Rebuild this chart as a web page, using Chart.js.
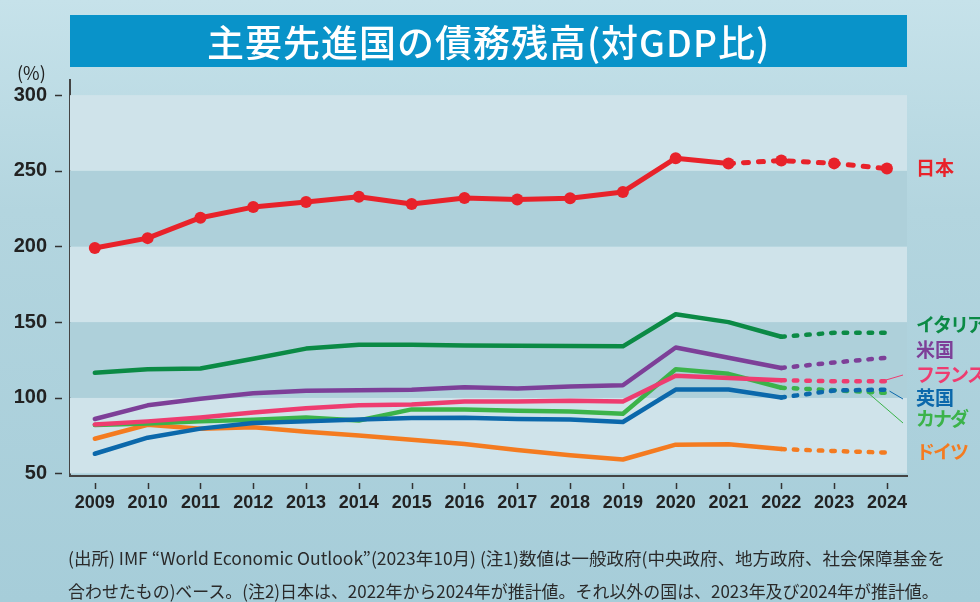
<!DOCTYPE html>
<html>
<head>
<meta charset="utf-8">
<script src="https://cdn.jsdelivr.net/npm/chart.js@4"></script>
<style>
  html, body { margin: 0; padding: 0; }
  body {
    width: 980px; height: 602px; overflow: hidden; position: relative;
    background: linear-gradient(180deg, #c6e2ea 0%, #b3d5df 35%, #a6cdd9 100%);
    font-family: "Noto Sans CJK JP", sans-serif;
  }
  #wrap { position: absolute; left: 0; top: 0; width: 980px; height: 602px; }
  #title {
    position: absolute; left: 70px; top: 15px; width: 837px; height: 52px;
    background: #0993c9; color: #fff; text-align: center;
    font-size: 37px; font-weight: 500; line-height: 52px; letter-spacing: 1px;
  }
  #unit { position: absolute; left: 17px; top: 59px; font-size: 18px; color: #222; }
  #note {
    position: absolute; left: 68px; top: 541px; font-size: 17.5px; line-height: 33px;
    color: #2a2a2a; white-space: nowrap;
  }
  #note span { display: block; transform-origin: 0 50%; }
  #note span.l2 { transform: scaleX(0.968); }
</style>
</head>
<body>
<div id="wrap"><canvas id="chart"></canvas></div>
<div id="title">主要先進国の債務残高(対GDP比)</div>
<div id="unit">(%)</div>
<div id="note"><span>(出所) IMF “World Economic Outlook”(2023年10月) (注1)数値は一般政府(中央政府、地方政府、社会保障基金を</span><span class="l2">合わせたもの)ベース。(注2)日本は、2022年から2024年が推計値。それ以外の国は、2023年及び2024年が推計値。</span></div>
<script>
const years = [2009, 2010, 2011, 2012, 2013, 2014, 2015, 2016, 2017, 2018, 2019, 2020, 2021, 2022, 2023, 2024];
const yTicks = [50, 100, 150, 200, 250, 300];

const japan   = [199, 205.5, 219, 226, 229.3, 232.8, 228, 232, 231, 231.8, 236, 258.3, 254.8, 256.8, 254.9, 251.5];
const italy   = [116.5, 118.8, 119.3, 125.8, 132.5, 135.1, 135, 134.6, 134.3, 134.2, 134, 155.2, 150, 140.3, 143, 143];
const usa     = [86, 95, 99.4, 103, 104.6, 105, 105.3, 107, 106.2, 107.5, 108.3, 133.2, 126.5, 119.7, 123.3, 126.5];
const france  = [82.4, 84.4, 87, 90.3, 93, 95, 95.6, 97.6, 97.6, 98, 97.6, 114.5, 113, 111.6, 110.9, 110.9];
const uk      = [63, 73.6, 79.6, 83.3, 84.4, 85.7, 86.6, 86.8, 86, 85.7, 84, 105.4, 105.4, 100.2, 104.8, 105.4];
const canada  = [82, 83, 84.4, 85.4, 87, 85, 92.3, 92.3, 91.4, 91, 89.5, 118.8, 115.8, 106.6, 105, 103.2];
const germany = [72.9, 82.2, 79.5, 80.5, 77.5, 75, 72.2, 69.5, 65.5, 62, 59.2, 69, 69.3, 66.1, 64.8, 63.8];

const countries = ["日本", "イタリア", "米国", "フランス", "英国", "カナダ", "ドイツ"];
const colors = ["#e8222a", "#0b8a45", "#7d3f98", "#ee3c70", "#0b68ab", "#3bb34a", "#f47b20"];
const series = [japan, italy, usa, france, uk, canada, germany];
// estimates start: Japan from 2022, others from 2023
const estStart = [12, 13, 13, 13, 13, 13, 13];
// label vertical centres on the right side
const labelY = [168, 325, 350, 375, 398, 419, 452];
const kana = [false, true, false, true, false, true, true];

const datasets = series.map((vals, i) => ({
  label: countries[i],
  data: vals.map((v, j) => ({ x: years[j], y: v })),
  borderColor: colors[i],
  backgroundColor: colors[i],
  borderWidth: i === 0 ? 5 : 4.5,
  borderCapStyle: "round",
  borderJoinStyle: "round",
  pointRadius: i === 0 ? 6 : 0,
  pointHoverRadius: 0,
  pointBorderWidth: 0,
  tension: 0,
  order: i,
  segment: {
    borderDash: ctx => ctx.p0DataIndex >= estStart[i] ? (i === 0 ? [5, 10] : [3.5, 9]) : undefined
  }
}));

const decor = {
  id: "decor",
  beforeDatasetsDraw(chart) {
    const { ctx, chartArea: a, scales: { y } } = chart;
    ctx.save();
    // horizontal bands
    for (let k = 0; k < yTicks.length - 1; k++) {
      const lo = y.getPixelForValue(yTicks[k]);
      const hi = y.getPixelForValue(yTicks[k + 1]);
      ctx.fillStyle = (k % 2 === 0) ? "#cfe3ea" : "#aed0da";
      ctx.fillRect(a.left, hi, a.right - a.left, lo - hi);
    }
    ctx.restore();
  },
  afterDraw(chart) {
    const { ctx, chartArea: a, scales: { x, y } } = chart;
    ctx.save();
    ctx.strokeStyle = "#333";
    ctx.lineWidth = 1.5;
    // small tick marks, detached from axes
    yTicks.forEach(t => {
      const py = Math.round(y.getPixelForValue(t)) + 0.5;
      ctx.beginPath(); ctx.moveTo(55, py); ctx.lineTo(62, py); ctx.stroke();
    });
    years.forEach(t => {
      const px = Math.round(x.getPixelForValue(t)) + 0.5;
      ctx.beginPath(); ctx.moveTo(px, a.bottom + 7); ctx.lineTo(px, a.bottom + 13); ctx.stroke();
    });
    // leader lines for crowded labels
    const last = years[years.length - 1];
    const lx = a.right - 4;
    const lead = [[3, last - 0.1, france[15], 375], [4, last + 0.05, uk[15] - 1, 399], [5, last - 0.35, canada[14] - 2, 423]];
    ctx.lineWidth = 1;
    lead.forEach(([i, xv, yv, ty]) => {
      ctx.strokeStyle = colors[i];
      ctx.beginPath();
      ctx.moveTo(x.getPixelForValue(xv), y.getPixelForValue(yv));
      ctx.lineTo(lx, ty);
      ctx.stroke();
    });
    // country labels
    ctx.font = "bold 19px 'Noto Sans CJK JP', sans-serif";
    ctx.textBaseline = "middle";
    ctx.textAlign = "left";
    countries.forEach((c, i) => {
      ctx.fillStyle = colors[i];
      ctx.letterSpacing = kana[i] ? "-2px" : "0px";
      ctx.fillText(c, a.right + 9, labelY[i]);
    });
    ctx.restore();
  }
};

new Chart(document.getElementById("chart"), {
  type: "line",
  data: { datasets: datasets },
  options: {
    responsive: true,
    maintainAspectRatio: false,
    animation: false,
    layout: { padding: { top: 80, right: 73, left: 0, bottom: 0 } },
    plugins: { legend: { display: false }, tooltip: { enabled: false } },
    scales: {
      x: {
        type: "linear",
        min: 2008.53,
        max: 2024.38,
        afterBuildTicks: s => { s.ticks = years.map(v => ({ value: v })); },
        afterFit: s => { s.height = 126; },
        grid: { display: false, drawTicks: false },
        border: { display: true, color: "#444", width: 2 },
        ticks: {
          padding: 16,
          color: "#222",
          font: { family: "'Liberation Sans', Arial, sans-serif", size: 18, weight: "bold" },
          callback: v => String(v),
          maxRotation: 0,
          autoSkip: false
        }
      },
      y: {
        min: 48.3,
        max: 310,
        afterBuildTicks: s => { s.ticks = yTicks.map(v => ({ value: v })); },
        afterFit: s => { s.width = 70; },
        grid: { display: false, drawTicks: false },
        border: { display: true, color: "#444", width: 2 },
        ticks: {
          padding: 23,
          color: "#222",
          font: { family: "'Liberation Sans', Arial, sans-serif", size: 20, weight: "bold" },
          callback: v => String(v)
        }
      }
    }
  },
  plugins: [decor]
});
</script>
</body>
</html>
